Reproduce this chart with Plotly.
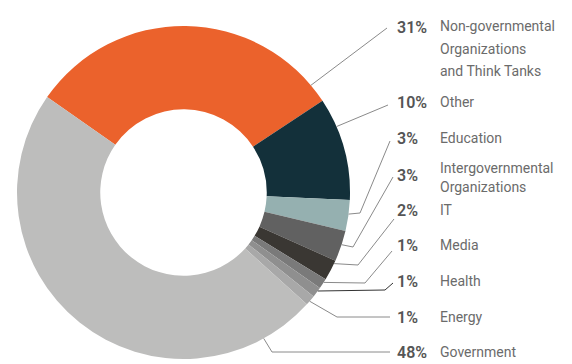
import math
import plotly.graph_objects as go

# ---- data ----
categories = [["Non-governmental", "Organizations", "and Think Tanks"], ["Other"], ["Education"],
              ["Intergovernmental", "Organizations"], ["IT"], ["Media"], ["Health"], ["Energy"], ["Government"]]
values = [31, 10, 3, 3, 2, 1, 1, 1, 48]
colors = ["#EB622C", "#13303A", "#95B0B0", "#616161", "#3A3733", "#7A7A7A", "#8F8F8F", "#A8A8A8", "#BDBDBC"]

# ---- layout constants (pixels) ----
W, H = 572, 364
CX, CY, R = 183.5, 192.5, 166.5
ROT = -55  # first slice start, degrees clockwise from 12 o'clock
pct_y = [27, 102, 138, 175, 210, 245, 281, 317, 352]
name_y = [26, 102, 138, 168, 210, 245, 281, 317, 352]
line_gap = [22.5, 0, 0, 18.5, 0, 0, 0, 0, 0]
anchor_frac = [0.94, 0.28, 0.45, 0.45, 0.15, 0.35, 0.35, 0.6, 0.11]
elbows = [None, None, (360, 213), (353, 247), (358, 265), (365, 283), (385, 290), (337, 317), (272, 352)]
line_ends = [(387, 28), (388, 105), (390, 141), (393, 177), (394, 219), (392, 251), (393, 283), (390, 317), (390, 352)]
line_colors = ["#8a8a8a"] * 6 + ["#333333"] + ["#8a8a8a"] * 2
PCT_X, NAME_X = 395, 438

fig = go.Figure()
fig.add_trace(go.Pie(
    values=values, labels=[" ".join(c) for c in categories],
    marker=dict(colors=colors, line=dict(width=0)),
    hole=0.5, sort=False, direction="clockwise", rotation=ROT,
    textinfo="none", hoverinfo="label+percent", showlegend=False,
    domain=dict(x=[(CX - R) / W, (CX + R) / W], y=[1 - (CY + R) / H, 1 - (CY - R) / H]),
))

total = sum(values)
shapes, annotations = [], []
cum = 0.0
for i, v in enumerate(values):
    a0 = ROT + 360 * cum / total
    a1 = ROT + 360 * (cum + v) / total
    cum += v
    ang = math.radians(a0 + (a1 - a0) * anchor_frac[i])
    sx, sy = CX + R * math.sin(ang), CY - R * math.cos(ang)
    pts = [(sx, sy)]
    if elbows[i]:
        pts.append(elbows[i])
    pts.append(line_ends[i])
    path = "M " + " L ".join(f"{x:.1f},{y:.1f}" for x, y in pts)
    shapes.append(dict(type="path", path=path, xref="x", yref="y",
                       line=dict(color=line_colors[i], width=1)))
    pct = round(100 * v / total)
    annotations.append(dict(x=PCT_X, y=pct_y[i], xref="x", yref="y", text=f"{pct}%",
                            showarrow=False, xanchor="left", yanchor="middle",
                            font=dict(family="Roboto", size=16, color="#555555", weight=600)))
    for k, line in enumerate(categories[i]):
        annotations.append(dict(x=NAME_X, y=name_y[i] + k * line_gap[i], xref="x", yref="y", text=line,
                                showarrow=False, xanchor="left", yanchor="middle",
                                font=dict(family="Roboto", size=14, color="#6b6b6b")))

fig.update_layout(
    width=W, height=H, margin=dict(l=0, r=0, t=0, b=0),
    paper_bgcolor="white", plot_bgcolor="rgba(0,0,0,0)",
    xaxis=dict(range=[0, W], visible=False, fixedrange=True),
    yaxis=dict(range=[H, 0], visible=False, fixedrange=True),
    shapes=shapes, annotations=annotations,
)
fig.write_html("out.html")
